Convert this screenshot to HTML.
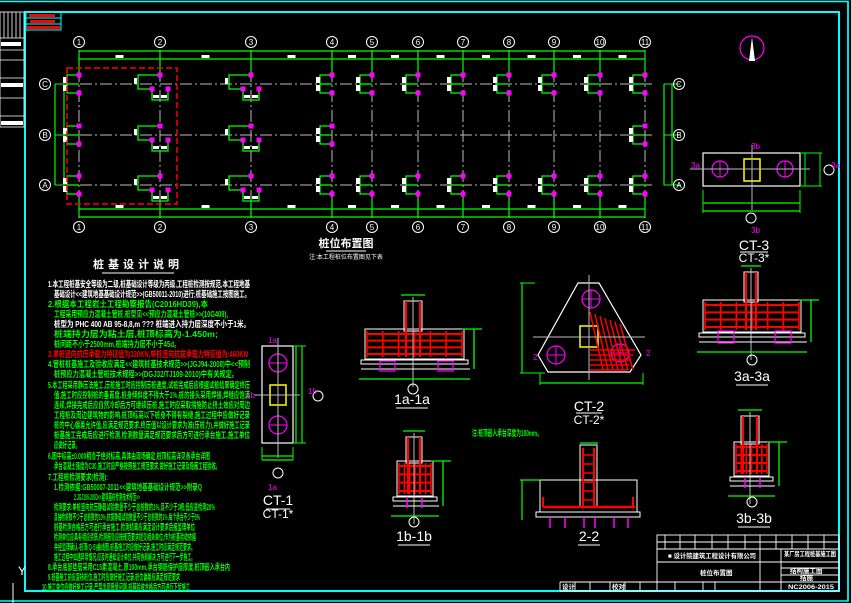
<!DOCTYPE html>
<html><head><meta charset="utf-8">
<style>
html,body{margin:0;padding:0;background:#000;}
svg{display:block;}
text{font-family:"Liberation Sans","Noto Sans CJK SC",sans-serif;}
.g{fill:#0f0;font-size:8.5px;font-weight:bold;}
.w{fill:#fff;}
</style></head>
<body>
<svg id="s" width="851" height="603" viewBox="0 0 851 603" xmlns="http://www.w3.org/2000/svg">
<rect width="851" height="603" fill="#000"/>
<path d="M0 1.5H848V601H0" fill="none" stroke="#0ff" stroke-width="1.5"/>
<rect x="25" y="12" width="814" height="579" fill="none" stroke="#0ff" stroke-width="2"/>
<line x1="848" y1="1" x2="848" y2="601" stroke="#0ff" stroke-width="1.5"/>
<g stroke="#fff" stroke-width="0.8" fill="none">
<rect x="0" y="12" width="24" height="115"/>
<line x1="0" y1="38" x2="24" y2="38"/><line x1="0" y1="50" x2="24" y2="50"/><line x1="0" y1="60" x2="24" y2="60"/><line x1="0" y1="78" x2="24" y2="78"/><line x1="0" y1="98" x2="24" y2="98"/><line x1="0" y1="116" x2="24" y2="116"/>
<line x1="4" y1="12" x2="4" y2="38"/><line x1="8" y1="12" x2="8" y2="38"/><line x1="12" y1="12" x2="12" y2="38"/><line x1="16" y1="12" x2="16" y2="38"/><line x1="20" y1="12" x2="20" y2="38"/>
</g>
<rect x="1" y="42" width="20" height="4" fill="#fff"/><rect x="1" y="83" width="22" height="4" fill="#fff"/><rect x="1" y="121" width="22" height="4" fill="#fff"/>
<g stroke="#0ff" fill="none"><rect x="26" y="12" width="35" height="6"/><rect x="26" y="18" width="35" height="6"/><rect x="26" y="24" width="35" height="6"/></g>
<rect x="29" y="14" width="26" height="3" fill="#f00"/><rect x="30" y="20" width="25" height="3" fill="#f00"/><rect x="27" y="26" width="33" height="3" fill="#f00"/>
<g id="plan"></g>
<rect x="67" y="68" width="110" height="136" fill="none" stroke="#f00" stroke-width="1.5" stroke-dasharray="6,3"/>
<text x="346" y="247" class="w" font-size="11" font-weight="bold" text-anchor="middle">桩位布置图</text>
<line x1="326" y1="251" x2="366" y2="251" stroke="#fff"/>
<text x="346" y="259" class="w" font-size="6" text-anchor="middle">注:本工程桩位布置图见下表</text>
<circle cx="752" cy="48" r="12" fill="none" stroke="#f0f" stroke-width="1.2"/>
<path d="M752 37 L749 61 L755 61Z" fill="#fff"/>
<text x="138" y="268" class="w" font-size="11" font-weight="bold" text-anchor="middle" letter-spacing="4">桩基设计说明</text>
<line x1="102" y1="273" x2="174" y2="273" stroke="#fff"/>
<g id="notes">
<text x="48" y="287" class="w" font-size="8.5" font-weight="bold" data-m="220">1.本工程桩基安全等级为二级,桩基础设计等级为丙级,工程桩检测按规范,本工程地基</text>
<text x="54" y="297" class="w" font-size="8.5" font-weight="bold" data-m="252">基础设计&lt;&lt;建筑地基基础设计规范&gt;&gt;(GB50011-2010)进行;桩基础施工按图施工。</text>
<text x="48" y="307" class="g" data-m="178">2.根据本工程岩土工程勘察报告(C2016HD39),本</text>
<text x="54" y="317" class="g" data-m="198">工程采用预应力混凝土管桩,桩型见&lt;&lt;预应力混凝土管桩&gt;&gt;(10G409),</text>
<text x="54" y="327" class="w" font-size="8.5" font-weight="bold" data-m="240">桩型为 PHC 400 AB 95-8,8,m ??? 桩端进入持力层深度不小于1米。</text>
<text x="54" y="337" class="g" data-m="188">桩端持力层为粘土层,桩顶标高为-1.450m;</text>
<text x="54" y="347" class="g" data-m="150">桩间距不小于2500mm,桩端持力层不小于45d。</text>
<text x="48" y="357" fill="#f0f" class="g" style="fill:#f00" data-m="218">3.单桩竖向抗压承载力特征值为320KN,单桩竖向抗拔承载力特征值为:460KN</text>
<text x="48" y="367" class="g" data-m="238">4.管桩桩基施工及验收应满足&lt;&lt;建筑桩基技术规范&gt;&gt;(JGJ94-2008)中&lt;&lt;预制</text>
<text x="54" y="377" class="g" data-m="208">桩预应力混凝土管桩技术规程&gt;&gt;(DGJ32/TJ109-2010)中有关规定。</text>
<text x="48" y="388" class="g" data-m="232">5.本工程采用静压法施工,压桩施工时应控制压桩速度,试桩完成后应根据试桩结果确定终压</text>
<text x="54" y="398" class="g" data-m="230">值,施工时应控制桩的垂直度,桩身倾斜度不得大于1%,桩的接头采用焊接,焊缝应饱满</text>
<text x="54" y="408" class="g" data-m="232">连续,焊接完成后应自然冷却后方可继续压桩,施工时应采取措施防止挤土效应对周边</text>
<text x="54" y="418" class="g" data-m="232">工程桩及周边建筑物的影响,桩顶标高以下桩身不得有裂缝,施工过程中应做好记录</text>
<text x="54" y="428" class="g" data-m="232">桩的中心偏差允许值,应满足规范要求,终压值以设计要求为准(压桩力),并做好施工记录</text>
<text x="54" y="438" class="g" data-m="236">桩基施工完成后应进行检测,检测数量满足规范要求后方可进行承台施工,施工单位</text>
<text x="54" y="448" class="g" data-m="50">应做好记录。</text>
<text x="48" y="459" class="g" data-m="180">6.图中标高±0.000相当于绝对标高,具体由现场确定,桩顶标高详见各承台详图</text>
<text x="54" y="469" class="g" data-m="190">承台混凝土强度为C30,施工时应严格按照施工规范要求,做好施工记录及隐蔽工程验收。</text>
<text x="48" y="480" class="g" data-m="78">7.工程桩检测要求(检测):</text>
<text x="54" y="490" class="g" data-m="172">1.检测依据:GB50007-2011&lt;&lt;建筑地基基础设计规范&gt;&gt;附录Q</text>
<text x="74" y="500" class="g" data-m="110">2.JGJ106-2003&lt;&lt;建筑基桩检测技术规范&gt;&gt;</text>
<text x="54" y="510" class="g" data-m="185">检测要求:单桩竖向抗压静载试验数量不少于总桩数的1%,且不少于3根,低应变检测20%</text>
<text x="54" y="520" class="g" data-m="170">且抽检桩数不少于总桩数的10%,抗拔静载试验数量不少于总桩数的1%,每个承台不少于5%</text>
<text x="54" y="530" class="g" data-m="165">桩基检测合格后方可进行承台施工,检测结果应满足设计要求后报监理单位</text>
<text x="54" y="540" class="g" data-m="166">检测单位应具有相应资质,检测报告应按规范要求提交相关单位,作为桩基验收依据</text>
<text x="54" y="550" class="g" data-m="165">并经监理确认-桩顶(Q-S)曲线图,桩基施工时应做好记录,施工时应满足规范要求。</text>
<text x="54" y="560" class="g" data-m="165">施工过程中如遇异常情况,应及时通知设计单位,共同协商解决,方可进行下一步施工。</text>
<text x="48" y="570" class="g" data-m="200">8.承台底部垫层采用C15素混凝土,厚100mm,承台钢筋保护层厚度,桩顶嵌入承台内</text>
<text x="48" y="580" class="g" data-m="150">9.桩基施工前应复核桩位,施工时应做好施工记录,桩位偏差应满足规范要求</text>
<text x="42" y="590" class="g" data-m="160">10.施工单位应做好施工记录,严禁出现质量问题,桩基验收合格后方可进行下步施工</text>
</g>
<text x="18" y="575" class="w" font-size="12">Y</text>
<line x1="13" y1="583" x2="13" y2="603" stroke="#fff"/>
<g id="det"></g>
<g class="w" font-size="14" text-anchor="middle">
<text x="278" y="505">CT-1</text><text x="278" y="518" font-size="12">CT-1*</text>
<text x="412" y="404">1a-1a</text>
<text x="589" y="411">CT-2</text><text x="589" y="424" font-size="12">CT-2*</text>
<text x="754" y="250">CT-3</text><text x="754" y="262" font-size="12">CT-3*</text>
<text x="752" y="381">3a-3a</text>
<text x="414" y="541">1b-1b</text>
<text x="589" y="541">2-2</text>
<text x="754" y="523">3b-3b</text>
</g>
<g stroke="#fff" stroke-width="1">
<line x1="266" y1="509" x2="290" y2="509"/><line x1="396" y1="408" x2="428" y2="408"/>
<line x1="576" y1="413" x2="602" y2="413"/><line x1="740" y1="252" x2="768" y2="252"/>
<line x1="736" y1="385" x2="768" y2="385"/><line x1="398" y1="545" x2="430" y2="545"/>
<line x1="578" y1="545" x2="600" y2="545"/><line x1="738" y1="527" x2="770" y2="527"/>
</g>
<text x="472" y="436" class="g" font-size="7" textLength="70" lengthAdjust="spacingAndGlyphs">注:桩顶嵌入承台深度为100mm。</text>
<g stroke="#fff" fill="none" stroke-width="0.9">
<rect x="657" y="535" width="182" height="56"/>
<line x1="657" y1="542" x2="839" y2="542"/><line x1="657" y1="549" x2="839" y2="549"/>
<line x1="657" y1="562" x2="839" y2="562"/><line x1="657" y1="582" x2="839" y2="582"/>
<line x1="760" y1="549" x2="760" y2="591"/><line x1="781" y1="549" x2="781" y2="591"/>
<line x1="781" y1="568" x2="839" y2="568"/><line x1="781" y1="575" x2="839" y2="575"/>
<line x1="560" y1="582" x2="657" y2="582"/><line x1="560" y1="582" x2="560" y2="591"/><line x1="560" y1="591" x2="657" y2="591"/>
<line x1="575" y1="582" x2="575" y2="591"/><line x1="590" y1="582" x2="590" y2="591"/><line x1="610" y1="582" x2="610" y2="591"/><line x1="625" y1="582" x2="625" y2="591"/><line x1="640" y1="582" x2="640" y2="591"/>
<line x1="675" y1="582" x2="675" y2="591"/><line x1="703" y1="582" x2="703" y2="591"/><line x1="715" y1="582" x2="715" y2="591"/>
<line x1="665" y1="535" x2="665" y2="549"/><line x1="680" y1="535" x2="680" y2="549"/><line x1="695" y1="535" x2="695" y2="549"/><line x1="712" y1="535" x2="712" y2="549"/><line x1="728" y1="535" x2="728" y2="549"/><line x1="745" y1="535" x2="745" y2="549"/><line x1="760" y1="535" x2="760" y2="549"/><line x1="776" y1="535" x2="776" y2="549"/><line x1="792" y1="535" x2="792" y2="549"/><line x1="808" y1="535" x2="808" y2="549"/><line x1="824" y1="535" x2="824" y2="549"/>
</g>
<g class="w" font-size="6.5" font-weight="bold">
<text x="668" y="558" textLength="88" lengthAdjust="spacingAndGlyphs">■ 设计院建筑工程设计有限公司</text>
<text x="700" y="575">桩位布置图</text>
<text x="784" y="556" textLength="52" lengthAdjust="spacingAndGlyphs">某厂房工程桩基施工图</text>
<text x="790" y="573">结构施工图</text>
<text x="800" y="580">结施</text>
<text x="788" y="589" textLength="46" lengthAdjust="spacingAndGlyphs">NC2006-2015</text>
<text x="562" y="589">设计</text><text x="612" y="589">校对</text>
</g>
</svg>
<script>
var NS="http://www.w3.org/2000/svg";
function el(p,t,a,txt){var e=document.createElementNS(NS,t);for(var k in a)e.setAttribute(k,a[k]);if(txt!==undefined)e.textContent=txt;p.appendChild(e);return e;}
// fit notes lines
Array.prototype.forEach.call(document.querySelectorAll("#notes text"),function(t){var m=+t.getAttribute("data-m");var x=+t.getAttribute("x");var w=m-x+30;if(w<20)w=m;t.setAttribute("textLength",Math.max(20,m+30-x>0?Math.min(m+30-x,250-x):m));t.setAttribute("lengthAdjust","spacingAndGlyphs");});
var P=document.getElementById("plan");
var xs=[79,160,251,332,372,418,463,509,554,600,645];
var ys={C:84,B:135,A:185};
for(var r in ys){el(P,"line",{x1:60,y1:ys[r],x2:655,y2:ys[r],stroke:"#bbb","stroke-width":1,"stroke-dasharray":"12,3,2,3"});}
xs.forEach(function(x){el(P,"line",{x1:x,y1:50,x2:x,y2:218,stroke:"#bbb","stroke-width":1,"stroke-dasharray":"12,3,2,3"});});
[51,59,209,217].forEach(function(y){el(P,"line",{x1:79,y1:y,x2:645,y2:y,stroke:"#0f0","stroke-width":1.2});});
xs.forEach(function(x){el(P,"line",{x1:x,y1:51,x2:x,y2:72,stroke:"#0f0","stroke-width":1.2});el(P,"line",{x1:x,y1:198,x2:x,y2:217,stroke:"#0f0","stroke-width":1.2});});
for(var i=0;i<xs.length-1;i++){var m=(xs[i]+xs[i+1])/2;el(P,"rect",{x:m-4,y:55,width:8,height:3,fill:"#fff"});el(P,"rect",{x:m-4,y:205,width:8,height:3,fill:"#fff"});}
[[55,64],[664,672]].forEach(function(p){p.forEach(function(x){el(P,"line",{x1:x,y1:84,x2:x,y2:185,stroke:"#0f0","stroke-width":1.2});});el(P,"line",{x1:p[0],y1:84,x2:p[1]+8,y2:84,stroke:"#0f0"});el(P,"line",{x1:p[0],y1:135,x2:p[1]+8,y2:135,stroke:"#0f0"});el(P,"line",{x1:p[0],y1:185,x2:p[1]+8,y2:185,stroke:"#0f0"});});
function bub(x,y,t){el(P,"circle",{cx:x,cy:y,r:5.5,fill:"none",stroke:"#fff","stroke-width":1});el(P,"text",{x:x,y:y+3,fill:"#fff","font-size":8,"text-anchor":"middle","font-family":"Liberation Sans"},t);}
xs.forEach(function(x,i){bub(x,42,String(i+1));bub(x,227,String(i+1));});
[["C",84],["B",135],["A",185]].forEach(function(a){bub(45,a[1],a[0]);bub(679,a[1],a[0]);});
function grp(x,y){var g="#0f0";
 el(P,"polyline",{points:(x)+","+(y-9)+" "+(x-12)+","+(y-9)+" "+(x-12)+","+(y+9)+" "+x+","+(y+9),fill:"none",stroke:g,"stroke-width":1.3});
 el(P,"line",{x1:x-12,y1:y,x2:x,y2:y,stroke:g,"stroke-width":1.3});
 el(P,"rect",{x:x-16,y:y-7,width:4,height:6,fill:"#fff"});el(P,"rect",{x:x-16,y:y+1,width:4,height:6,fill:"#fff"});
 [y-9,y+9].forEach(function(yy){el(P,"rect",{x:x-2.5,y:yy-2.5,width:5,height:5,fill:"#f0f"});});}
function grp3(x,y){var g="#0f0";
 el(P,"polyline",{points:(x-2)+","+(y-9)+" "+(x-22)+","+(y-9)+" "+(x-22)+","+(y+5)+" "+(x-8)+","+(y+5),fill:"none",stroke:g,"stroke-width":1.3});
 el(P,"polyline",{points:(x-8)+","+(y+5)+" "+(x-8)+","+(y+16)+" "+(x+8)+","+(y+16)+" "+(x+8)+","+(y+5),fill:"none",stroke:g,"stroke-width":1.3});
 el(P,"rect",{x:x-7,y:y+11,width:6,height:3,fill:"#fff"});el(P,"rect",{x:x+1,y:y+11,width:6,height:3,fill:"#fff"});
 el(P,"rect",{x:x-26,y:y-6,width:3,height:6,fill:"#fff"});
 [[x,y-9],[x-8,y+5],[x+8,y+5]].forEach(function(p){el(P,"rect",{x:p[0]-2.5,y:p[1]-2.5,width:5,height:5,fill:"#f0f"});});}
xs.forEach(function(x,i){
 if(i==1||i==2){grp3(x,84);grp3(x,185);grp3(x,135);}
 else{grp(x,84);grp(x,185);if(i==0||i==3||i==10)grp(x,135);}
});
var D=document.getElementById("det");
function L(x1,y1,x2,y2,c,w){el(D,"line",{x1:x1,y1:y1,x2:x2,y2:y2,stroke:c,"stroke-width":w||1});}
function R(x,y,w,h,c,sw,f){el(D,"rect",{x:x,y:y,width:w,height:h,fill:f||"none",stroke:c,"stroke-width":sw||1});}
function C(x,y,r,c){el(D,"circle",{cx:x,cy:y,r:r,fill:"none",stroke:c,"stroke-width":1.2});L(x-r,y,x+r,y,c);L(x,y-r,x,y+r,c);}
function sect(bx,by,bw,bh,cx,cw,ctop){
 R(bx-2,by-2,bw+4,bh+4,"#fff",1);
 for(var k=0;k<4;k++)L(bx,by+3+k*(bh-6)/3,bx+bw,by+3+k*(bh-6)/3,"#f00",2);
 for(var k=0;k<=6;k++)L(bx+k*bw/6,by,bx+k*bw/6,by+bh,"#f00",1.6);
 R(cx,ctop,cw,by-ctop,"#fff",1);L(cx+2,ctop,cx+2,by+bh,"#f00",2);L(cx+cw-2,ctop,cx+cw-2,by+bh,"#f00",2);
 L(cx+cw/2,ctop-4,cx+cw/2,by+bh+30,"#bbb",1);
 R(bx-6,by+bh+3,bw+12,4,"#fff",1);
 L(bx-6,by+bh+12,bx+bw+8,by+bh+12,"#fff",1);
 L(bx-8,by+bh+22,bx+bw+8,by+bh+22,"#0f0",1.3);
 L(cx-3,ctop-6,cx+cw+3,ctop-6,"#0f0",1.3);
 L(bx+bw+12,by-2,bx+bw+12,by+bh+12,"#0f0",1.3);L(bx+bw,by-2,bx+bw+20,by-2,"#0f0",1.3);
}
sect(367,331,95,26,404,18,301);
R(380,361,15,10,"#f0f",1.2);R(438,361,15,10,"#f0f",1.2);
el(D,"circle",{cx:413,cy:389,r:5,fill:"none",stroke:"#fff"});
sect(705,302,94,28,744,14,272);
R(718,331,16,12,"#f0f",1.2);R(775,331,16,12,"#f0f",1.2);
el(D,"circle",{cx:752,cy:360,r:5,fill:"none",stroke:"#fff"});
sect(399,463,32,31,406,16,437);
L(407,497,407,508,"#f0f",1.5);L(422,497,422,508,"#f0f",1.5);
el(D,"circle",{cx:414,cy:522,r:5,fill:"none",stroke:"#fff"});
sect(736,444,31,30,741,18,416);
L(745,477,745,488,"#f0f",1.5);L(760,477,760,488,"#f0f",1.5);
el(D,"circle",{cx:752,cy:502,r:5,fill:"none",stroke:"#fff"});
R(540,480,97,32,"#fff",1);R(580,445,17,62,"#fff",1);
L(583,448,583,507,"#f00",2);L(594,448,594,507,"#f00",2);
L(543,507,635,507,"#f00",2.5);L(543,497,543,507,"#f00",2);L(633,497,633,507,"#f00",2);
for(var k=0;k<6;k++)L(583,455+k*9,594,455+k*9,"#f00",1.5);
R(536,512,104,5,"#fff",1);
[550,565,584,595,614,628].forEach(function(x){L(x,517,x,528,"#f0f",1.5);});
L(520,480,540,480,"#0f0",1.2);L(522,480,522,520,"#0f0",1.2);L(580,443,598,443,"#0f0",1.2);
R(262,346,31,97,"#fff",1.2);C(278,363,9,"#f0f");C(278,425,9,"#f0f");R(270,385,16,20,"#ff0",1.5);
L(278,338,278,458,"#bbb");L(254,395,300,395,"#bbb");
L(296,346,296,443,"#0f0",1.2);L(302,346,302,443,"#0f0",1.2);L(293,346,306,346,"#0f0");L(293,443,306,443,"#0f0");
L(262,447,262,460,"#0f0");L(293,447,293,460,"#0f0");L(262,456,293,456,"#0f0",1.2);L(262,460,293,460,"#0f0",1.2);
el(D,"circle",{cx:278,cy:473,r:5,fill:"none",stroke:"#fff"});el(D,"circle",{cx:318,cy:396,r:5,fill:"none",stroke:"#fff"});
el(D,"text",{x:268,y:343,fill:"#f0f","font-size":8},"1a");el(D,"text",{x:268,y:490,fill:"#f0f","font-size":8},"1a");
el(D,"text",{x:246,y:398,fill:"#f0f","font-size":8},"1b");el(D,"text",{x:308,y:394,fill:"#f0f","font-size":8},"1b");
el(D,"polygon",{points:"578,283 599,283 641,355 630,372 548,372 538,355",fill:"none",stroke:"#fff","stroke-width":1.2});
C(591,299,9,"#f0f");C(556,355,9,"#f0f");C(620,353,9,"#f0f");
R(580,326,18,21,"#ff0",1.5);
for(var k=0;k<7;k++)L(590+k*5,312+k*2,603+k*5,370,"#f00",1.5);
for(var k=0;k<5;k++)L(590,350+k*5,635-k*2,350+k*5,"#f00",1.5);
L(589,275,589,380,"#bbb");L(533,337,645,337,"#bbb");
L(522,283,522,373,"#0f0",1.2);L(520,283,535,283,"#0f0");L(520,373,545,373,"#0f0");
L(540,383,643,383,"#0f0",1.2);L(540,373,540,385,"#0f0");L(643,373,643,385,"#0f0");
el(D,"text",{x:533,y:360,fill:"#f0f","font-size":8},"2");el(D,"text",{x:646,y:356,fill:"#f0f","font-size":8},"2");
R(703,153,97,33,"#fff",1.2);C(720,169,8,"#f0f");C(785,169,8,"#f0f");R(744,159,16,22,"#ff0",1.5);
L(690,169,810,169,"#bbb");L(752,145,752,210,"#bbb");
L(703,190,703,213,"#0f0");L(800,190,800,213,"#0f0");L(703,203,800,203,"#0f0",1.2);L(703,211,800,211,"#0f0",1.2);
L(805,153,805,186,"#0f0");L(820,153,820,186,"#0f0");L(800,153,822,153,"#0f0");L(800,186,822,186,"#0f0");
el(D,"circle",{cx:751,cy:218,r:5,fill:"none",stroke:"#fff"});el(D,"circle",{cx:829,cy:170,r:5,fill:"none",stroke:"#fff"});
el(D,"text",{x:751,y:149,fill:"#f0f","font-size":8},"3b");el(D,"text",{x:751,y:233,fill:"#f0f","font-size":8},"3b");
el(D,"text",{x:691,y:168,fill:"#f0f","font-size":8},"3a");el(D,"text",{x:831,y:168,fill:"#f0f","font-size":8},"3a");
</script>
</body></html>
